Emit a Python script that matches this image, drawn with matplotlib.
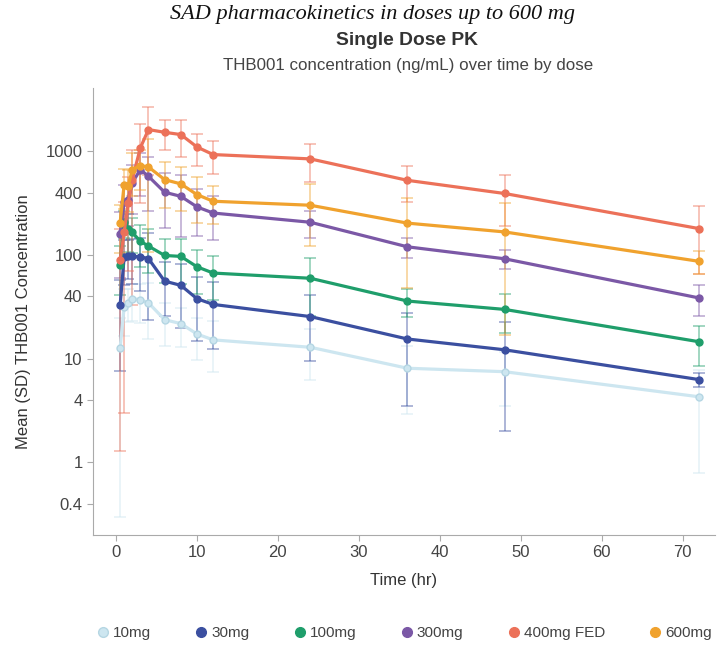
import matplotlib
matplotlib.use("Agg")
import matplotlib.pyplot as plt
from matplotlib.ticker import FixedLocator, NullLocator

plt.rcParams['font.family'] = ['Liberation Sans', 'DejaVu Sans']

# Sampling times (hr)
times = [0.5, 1, 1.5, 2, 3, 4, 6, 8, 10, 12, 24, 36, 48, 72]

# Dose groups
doses = ["10mg", "30mg", "100mg", "300mg", "400mg FED", "600mg"]
colors = ["#cde6f0", "#3b4fa0", "#1f9e6b", "#7b58a6", "#ec7159", "#f0a22e"]

# Mean concentration (ng/mL)
mean_10 = [12.6, 31.7, 34.6, 37.9, 37.2, 34.6, 23.8, 21.8, 17.3, 15.2, 12.9, 8.1, 7.5, 4.3]
mean_30 = [32.7, 96, 98.6, 97, 96, 92.4, 56, 51, 37.9, 33.4, 25.5, 15.5, 12.2, 6.3]
mean_100 = [81, 207, 178, 165, 136, 122, 99, 97, 77, 67, 59.7, 36, 29.9, 14.6]
mean_300 = [160, 322, 342, 496, 667, 574, 403, 368, 291, 254, 207, 120, 92, 38.6]
mean_400fed = [90, 165, 320, 533, 1080, 1620, 1525, 1450, 1100, 930, 845, 525, 392, 180]
mean_600 = [204, 478, 460, 667, 728, 707, 533, 485, 382, 330, 302, 203, 167, 87]

# Standard deviations
sd_10 = [12.3, 15, 12, 15, 15, 19, 10.4, 8.8, 7.6, 7.7, 6.6, 5.2, 4, 3.5]
sd_30 = [25, 45, 40, 45, 51, 69, 30, 31, 23, 21, 16, 12, 10.2, 1.0]
sd_100 = [40, 60, 70, 60, 60, 55, 45, 45, 35, 30, 34, 11, 12, 6]
sd_300 = [100, 150, 150, 250, 300, 310, 220, 220, 140, 115, 60, 26, 19, 13]
sd_400fed = [88.7, 162, 250, 500, 760, 1030, 500, 570, 380, 320, 335, 200, 200, 115]
sd_600 = [100, 200, 200, 300, 300, 600, 250, 220, 180, 130, 180, 155, 150, 22]

means = [mean_10, mean_30, mean_100, mean_300, mean_400fed, mean_600]
sds = [sd_10, sd_30, sd_100, sd_300, sd_400fed, sd_600]

y_ticks = [0.4, 1, 4, 10, 40, 100, 400, 1000]
x_ticks = [0, 10, 20, 30, 40, 50, 60, 70]

fig = plt.figure(figsize=(7.17, 6.5), dpi=100)
ax = fig.add_axes([0.1297, 0.177, 0.8675, 0.688])

for dose, color, m, s in zip(doses, colors, means, sds):
    # error bars first, faded
    ax.errorbar(times, m, yerr=s, fmt='none', ecolor=color, alpha=0.45,
                elinewidth=1.3, capsize=4, capthick=1.3, zorder=2)
    edge = "#b5d6e3" if dose == "10mg" else color
    ax.plot(times, m, color=color, linewidth=2.3, marker='o', markersize=5,
            markerfacecolor=color, markeredgecolor=edge, label=dose, zorder=3)

ax.set_yscale('log')
ax.set_ylim(0.2, 4100)
ax.set_xlim(-2.85, 74)
ax.yaxis.set_major_locator(FixedLocator(y_ticks))
ax.yaxis.set_minor_locator(NullLocator())
ax.set_yticklabels([f"{v:g}" for v in y_ticks])
ax.set_xticks(x_ticks)

for side in ['top', 'right']:
    ax.spines[side].set_visible(False)
for side in ['left', 'bottom']:
    ax.spines[side].set_color('#aaaaaa')
ax.tick_params(colors='#aaaaaa', labelcolor='#444444', labelsize=12, length=4)

ax.set_xlabel("Time (hr)", fontsize=12, color='#333333', labelpad=9)
ax.set_ylabel("Mean (SD) THB001 Concentration", fontsize=12, color='#333333')
ax.yaxis.set_label_coords(-0.1, 0.478)

fig.text(0.519, 0.978, "SAD pharmacokinetics in doses up to 600 mg", ha='center', va='center',
         family='Liberation Serif', style='italic', fontsize=16, color='#111111')
fig.text(0.567, 0.937, "Single Dose PK", ha='center', va='center',
         fontsize=13.9, fontweight='bold', color='#333333')
fig.text(0.569, 0.899, "THB001 concentration (ng/mL) over time by dose", ha='center', va='center',
         fontsize=12.2, color='#444444')

fig.legend(loc='center', bbox_to_anchor=(0.565, 0.026), ncol=6, frameon=False,
           handlelength=0.6, handletextpad=0.35, columnspacing=3.0, fontsize=11,
           markerscale=1.4, labelcolor='#444444')
leg = fig.legends[0]
for h in leg.legend_handles:
    h.set_linestyle('none')

fig.savefig("out.png", dpi=100)
